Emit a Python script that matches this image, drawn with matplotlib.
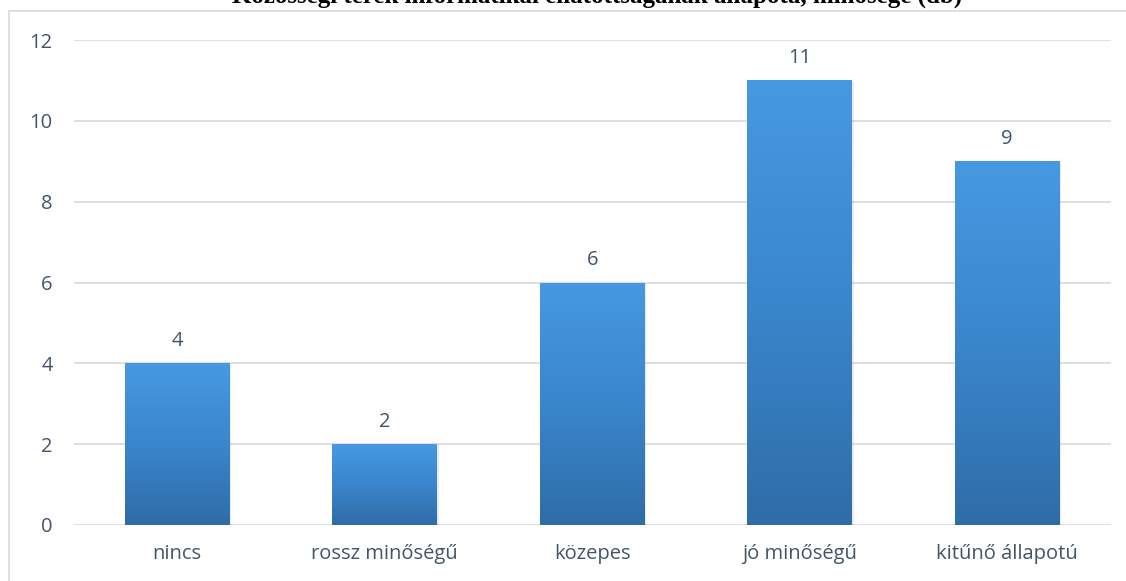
import numpy as np
import matplotlib
matplotlib.use("Agg")
import matplotlib.pyplot as plt
from matplotlib.patches import Rectangle
from matplotlib.colors import LinearSegmentedColormap

# data
categories = ['nincs', 'rossz minőségű', 'közepes', 'jó minőségű', 'kitűnő állapotú']
values = [4, 2, 6, 11, 9]
yticks = [0, 2, 4, 6, 8, 10, 12]
title = 'Közösségi terek informatikai ellátottságának állapota, minősége (db)'

txt_col = '#44546A'
grid_col = '#D9DDE3'
fs = 14.5

fig = plt.figure(figsize=(11.26, 5.81), dpi=100)
ax = fig.add_axes([73.5/1126, 56/581, (1111-73.5)/1126, 485/581])

x = np.arange(len(categories))
bars = ax.bar(x, values, width=0.506, color='none', zorder=3)

# gradient fill for each bar (light on top, darker at bottom)
cmap = LinearSegmentedColormap.from_list('bl', ['#2F6CA8', '#3A86CC', '#4699E2'])
grad = np.linspace(0, 1, 256).reshape(-1, 1)
for b in bars:
    x0, w, h = b.get_x(), b.get_width(), b.get_height()
    im = ax.imshow(grad, cmap=cmap, aspect='auto', origin='lower',
                   extent=[x0, x0 + w, 0, h], zorder=3)
    im.set_clip_path(b)
    # faint shadow
    ax.add_patch(Rectangle((x0 + 0.008, -0.03), w, h, facecolor='#000000',
                           alpha=0.08, edgecolor='none', zorder=2.5))

for xi, v in zip(x, values):
    ax.annotate(str(v), (xi, v), xytext=(0, 9), textcoords='offset points',
                ha='center', va='bottom', fontsize=fs, color=txt_col,
                family='Open Sans')

ax.set_xlim(-0.5, len(categories) - 0.5)
ax.set_ylim(0, 12)
ax.set_yticks(yticks)
ax.set_xticks(x)
ax.set_xticklabels(categories)
ax.yaxis.grid(True, color=grid_col, linewidth=1.3, zorder=0)
ax.set_axisbelow(True)
for s in ax.spines.values():
    s.set_visible(False)
ax.tick_params(axis='both', length=0, labelsize=fs, colors=txt_col)
ax.tick_params(axis='y', pad=15)
ax.tick_params(axis='x', pad=14)
for lab in ax.get_xticklabels() + ax.get_yticklabels():
    lab.set_family('Open Sans')

# chart border (cut at right and bottom)
fig.patches.append(Rectangle((9/1126, -0.05), 1.1, (581-11)/581 + 0.05,
                             transform=fig.transFigure, fill=False,
                             edgecolor='#D9D9D9', linewidth=1.2))

# title, mostly cut off at the top edge like in the source
fig.text(597/1126, 1 - 3/581, title, ha='center', va='baseline',
         fontsize=18, fontweight='bold', family='Liberation Serif', color='black')

fig.savefig('out.png', dpi=100)
